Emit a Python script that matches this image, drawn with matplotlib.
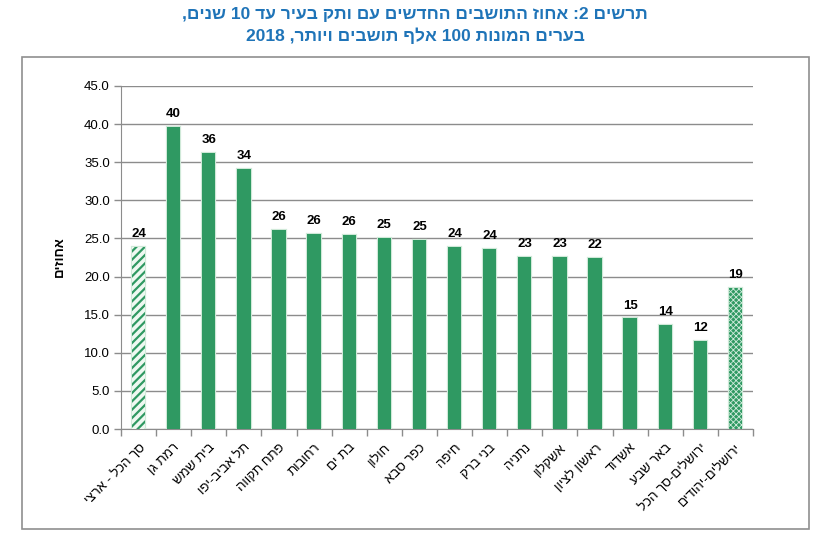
import re
import matplotlib
matplotlib.use("Agg")
import matplotlib.pyplot as plt
from matplotlib.patches import Rectangle

plt.rcParams['font.family'] = ['Liberation Sans', 'DejaVu Sans']
plt.rcParams['hatch.linewidth'] = 1.6

categories = ["סך הכל - ארצי", "רמת גן", "בית שמש", "תל אביב-יפו", "פתח תקווה", "רחובות",
              "בת ים", "חולון", "כפר סבא", "חיפה", "בני ברק", "נתניה", "אשקלון",
              "ראשון לציון", "אשדוד", "באר שבע", "ירושלים-סך הכל", "ירושלים-יהודים"]
values = [23.9, 39.6, 36.2, 34.1, 26.1, 25.6, 25.5, 25.0, 24.8, 23.9, 23.6, 22.6, 22.6,
          22.4, 14.5, 13.6, 11.6, 18.5]
labels = ["24", "40", "36", "34", "26", "26", "26", "25", "25", "24", "24", "23", "23",
          "22", "15", "14", "12", "19"]
yticks = [0, 5, 10, 15, 20, 25, 30, 35, 40, 45]
title_lines = ["תרשים 2: אחוז התושבים החדשים עם ותק בעיר עד 10 שנים,",
               "בערים המונות 100 אלף תושבים ויותר, 2018"]
ylabel = "אחוזים"


def vis(s):
    r = s[::-1]
    return re.sub(r'[0-9.]+', lambda m: m.group(0)[::-1], r)


GREEN = "#2f9962"
GLOW = "#cfe9d8"
GRID = "#8c8c8c"

fig = plt.figure(figsize=(8.27, 5.56), dpi=100)
fig.patch.set_facecolor("white")

# outer border
fig.add_artist(Rectangle((22 / 827, 1 - 529 / 556), 787 / 827, 472 / 556,
                         transform=fig.transFigure, fill=False,
                         edgecolor="#8f8f8f", linewidth=1.2))

for i, line in enumerate(title_lines):
    fig.text(0.502, 1 - (14 + 22 * i) / 556, vis(line), ha="center", va="center",
             fontsize=12.5, fontweight="bold", color="#1f74b8")

ax = fig.add_axes([121 / 827, 1 - 429 / 556, 632 / 827, 343 / 556])
x = list(range(len(categories)))
w = 0.38
for i, v in enumerate(values):
    if i == 0:
        ax.bar(i, v, width=w, color="#eef8f1", edgecolor=GREEN, hatch="////",
               linewidth=0, zorder=3)
    elif i == len(values) - 1:
        with plt.rc_context({'hatch.linewidth': 0.6}):
            ax.bar(i, v, width=w, color=GREEN, edgecolor="#cfeadb", hatch="xxxxxx",
                   linewidth=0, zorder=3)
    else:
        ax.bar(i, v, width=w, color=GREEN, linewidth=0, zorder=3)
    ax.bar(i, v, width=w, fill=False, edgecolor=GLOW, linewidth=1.6, zorder=2.9)
    ax.annotate(labels[i], (i, v), xytext=(0, 5), textcoords="offset points",
                ha="center", va="bottom", fontsize=9.5, fontweight="bold", zorder=4)

ax.set_xlim(-0.5, len(categories) - 0.5)
ax.set_ylim(0, 45)
ax.set_yticks(yticks)
ax.set_yticklabels([f"{t:.1f}" for t in yticks], fontsize=9.5)
ax.yaxis.grid(True, color=GRID, linewidth=1.0, zorder=0)
ax.set_axisbelow(True)

ax.set_xticks(x)
ax.set_xticklabels([vis(c) for c in categories], rotation=45, ha="right",
                   rotation_mode="anchor", fontsize=9.5)
ax.set_xticks([k - 0.5 for k in range(len(categories) + 1)], minor=True)
ax.tick_params(axis="x", which="major", length=0, pad=9)
ax.tick_params(axis="x", which="minor", length=5, color=GRID, width=1)
ax.tick_params(axis="y", length=5, color=GRID, width=1, pad=3)

for s in ["top", "right"]:
    ax.spines[s].set_visible(False)
ax.spines["left"].set_color(GRID)
ax.spines["bottom"].set_color(GRID)

fig.text(60 / 827, 1 - 257 / 556, vis(ylabel), rotation=90, ha="center", va="center",
         fontsize=9.5, fontweight="bold")

fig.savefig("out.png", dpi=100, facecolor="white")
